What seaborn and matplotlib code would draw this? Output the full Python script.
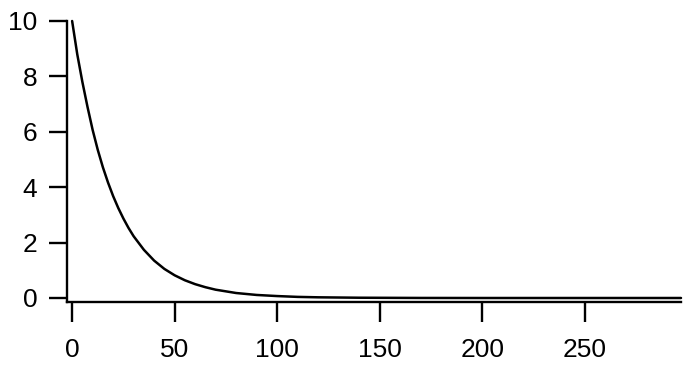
import matplotlib
matplotlib.use("Agg")
import matplotlib.pyplot as plt
import seaborn as sns
import pandas as pd

# values
x_vals = [0, 2.5, 5, 7.5, 10, 12.5, 15, 17.5, 20, 22.5, 25, 27.5, 30, 35, 40, 45,
          50, 55, 60, 65, 70, 80, 90, 100, 110, 120, 140, 170, 200, 250, 297]
y_vals = [10.0, 8.8, 7.8, 6.9, 6.07, 5.35, 4.72, 4.17, 3.68, 3.25, 2.87, 2.53, 2.23,
          1.74, 1.35, 1.05, 0.82, 0.64, 0.50, 0.39, 0.30, 0.18, 0.11, 0.07, 0.04,
          0.025, 0.01, 0.002, 0.0, 0.0, 0.0]
x_ticks = [0, 50, 100, 150, 200, 250]
y_ticks = [0, 2, 4, 6, 8, 10]

sns.set_theme(style="ticks")
plt.rcParams['font.family'] = ['Liberation Sans', 'DejaVu Sans']

df = pd.DataFrame({"x": x_vals, "y": y_vals})

fig = plt.figure(figsize=(6.99, 3.79), dpi=100)
ax = fig.add_axes([67/699, 1 - 301.6/379, (681 - 67)/699, (301.6 - 21)/379])
sns.lineplot(data=df, x="x", y="y", ax=ax, color="black", linewidth=1.8, clip_on=False)

ax.set_xlim(-2.5, 297)
ax.set_ylim(-0.13, 10)
ax.set_xticks(x_ticks)
ax.set_yticks(y_ticks)
ax.set_xlabel("")
ax.set_ylabel("")
for s in ["top", "right"]:
    ax.spines[s].set_visible(False)
for s in ["left", "bottom"]:
    ax.spines[s].set_linewidth(1.7)
    ax.spines[s].set_color("black")
ax.tick_params(axis="x", direction="out", length=14.5, width=1.7, pad=11.5, labelsize=19, colors="black")
ax.tick_params(axis="y", direction="out", length=13.3, width=1.7, pad=8, labelsize=19, colors="black")
ax.set_facecolor("white")
fig.patch.set_facecolor("white")

fig.savefig("out.png", dpi=100)
